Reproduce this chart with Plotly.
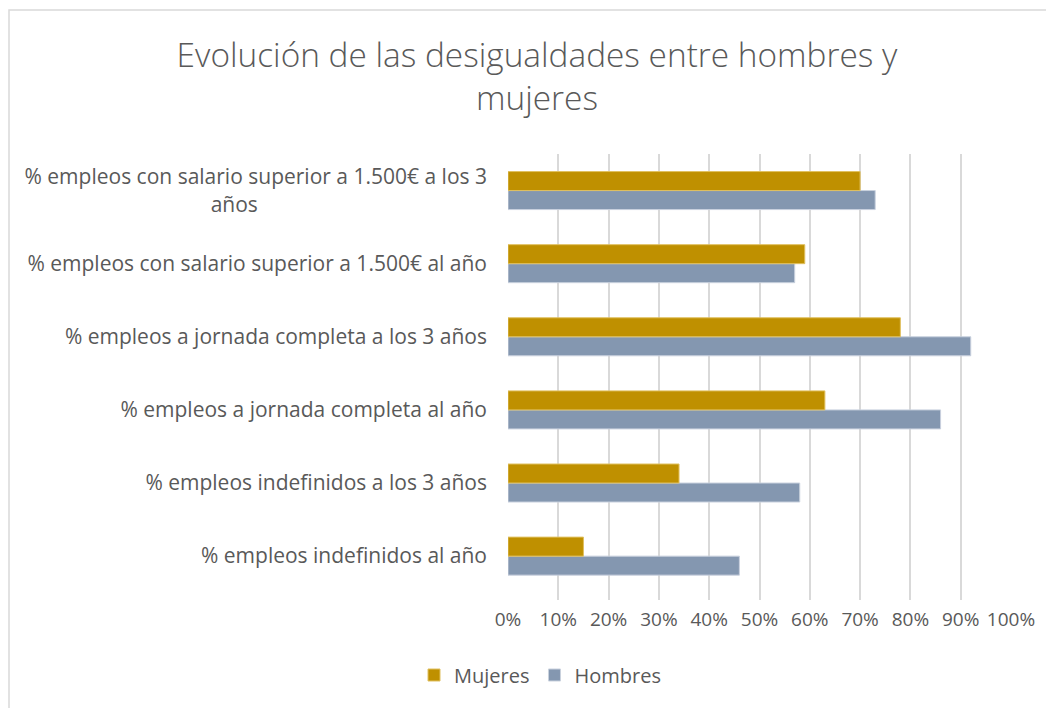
import plotly.graph_objects as go

# categories listed bottom to top, as plotly draws them
categorias = [
    "% empleos indefinidos al año",
    "% empleos indefinidos a los 3 años",
    "% empleos a jornada completa al año",
    "% empleos a jornada completa a los 3 años",
    "% empleos con salario superior a 1.500€ al año",
    "% empleos con salario superior a 1.500€ a los 3<br>años",
]
mujeres = [0.15, 0.34, 0.63, 0.78, 0.59, 0.70]
hombres = [0.46, 0.58, 0.86, 0.92, 0.57, 0.73]
ticks_x = [0, 0.1, 0.2, 0.3, 0.4, 0.5, 0.6, 0.7, 0.8, 0.9, 1.0]

TEXT = "#595959"
FONT = "Open Sans"

# second line of the wrapped label is centred in the original; pad it
etiquetas = [c.replace("<br>años", "<br>años" + "\u00a0" * 42) for c in categorias]

# the page body adds an 8px offset, so the figure is a bit smaller than the window
W, H = 1046, 700
ML, MR, MT, MB = 500, 43, 146, 108
PW, PH = W - ML - MR, H - MT - MB

fig = go.Figure()
fig.add_trace(go.Bar(
    y=categorias, x=hombres, name="Hombres", orientation="h",
    marker=dict(color="#8497B0", line=dict(color="#C9D1DE", width=1)),
))
fig.add_trace(go.Bar(
    y=categorias, x=mujeres, name="Mujeres", orientation="h",
    marker=dict(color="#BF9000", line=dict(color="#E0C060", width=1)),
))

fig.update_layout(
    width=W, height=H,
    paper_bgcolor="white", plot_bgcolor="white",
    margin=dict(l=ML, r=MR, t=MT, b=MB),
    barmode="group", bargap=0.48, bargroupgap=0,
    font=dict(family=FONT, size=20, color=TEXT),
    title=dict(
        text="Evolución de las desigualdades entre hombres y<br>mujeres",
        x=529 / W, xanchor="center", xref="container",
        y=1 - 59 / H, yanchor="top", yref="container",
        font=dict(family=FONT, size=33.4, color=TEXT, weight=300),
    ),
    xaxis=dict(
        range=[0, 1], tickvals=ticks_x, tickformat=".0%",
        showgrid=True, gridcolor="#D9D9D9", gridwidth=1.5,
        zeroline=False, showline=False, ticks="",
        ticklabelstandoff=6,
        tickfont=dict(size=19, color=TEXT),
    ),
    yaxis=dict(
        showgrid=False, zeroline=False, showline=False, ticks="",
        tickvals=categorias, ticktext=etiquetas,
        range=[-0.6, 5.5],
        ticklabelstandoff=20, automargin=False,
        tickfont=dict(size=21, color=TEXT),
    ),
    legend=dict(
        orientation="h", traceorder="reversed", itemwidth=30,
        x=532 / W, xref="container", xanchor="center",
        y=33 / H, yref="container", yanchor="middle",
        font=dict(size=20, color=TEXT),
    ),
)

# light frame around the chart, like the spreadsheet chart area
fig.add_shape(
    type="rect", xref="paper", yref="paper",
    x0=(1 - ML) / PW, x1=(W + 20 - ML) / PW,
    y0=1 + (MT - H - 20) / PH, y1=1 + (MT - 2) / PH,
    line=dict(color="#D9D9D9", width=1.5), fillcolor="rgba(0,0,0,0)",
    layer="below",
)

fig.write_html("out.html")
